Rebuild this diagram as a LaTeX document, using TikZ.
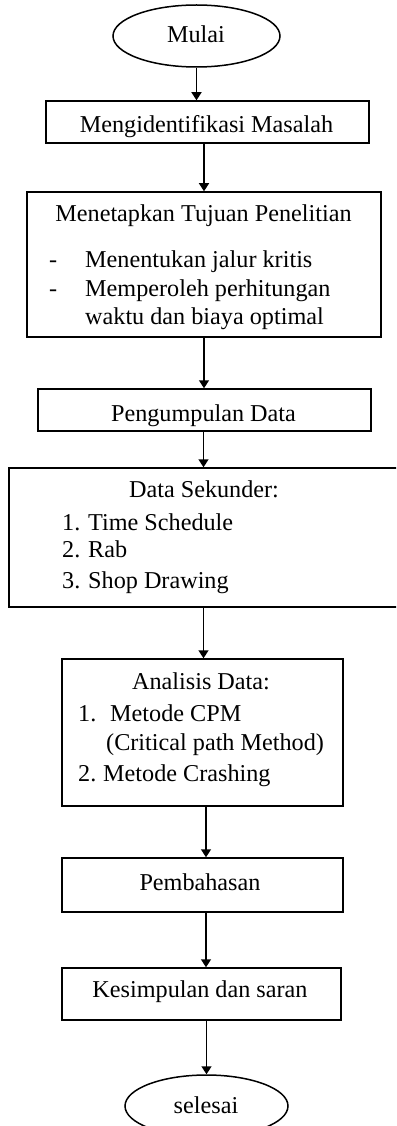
\documentclass[tikz,border=0pt]{standalone}
\usepackage{fontspec}
\setmainfont{Liberation Serif}
\usetikzlibrary{shapes.geometric,arrows.meta}
\begin{document}
\begin{tikzpicture}[x=1pt,y=-1pt,
  box/.style={draw,line width=1.5pt,rectangle,inner sep=0pt},
  term/.style={draw,line width=1.5pt,ellipse,inner sep=0pt},
  txt/.style={inner sep=0pt,anchor=base,font=\fontsize{24.2}{28}\selectfont},
  ltxt/.style={txt,anchor=base west},
  arr/.style={line width=1.5pt,-{Triangle[length=8pt,width=10pt]}}]
\useasboundingbox (0,0) rectangle (396,1126);
\clip (0,0) rectangle (396,1126);

% frames of the flowchart
\node[term,minimum width=167,minimum height=62] (mulai)    at (196.5,36) {};
\node[box,minimum width=323,minimum height=42]  (ident)    at (207.5,122) {};
\node[box,minimum width=354,minimum height=145] (tujuan)   at (204,264.5) {};
\node[box,minimum width=333,minimum height=42]  (kumpul)   at (204.5,410) {};
\node[box,minimum width=389,minimum height=139] (sekunder) at (203.5,537.5) {};
\node[box,minimum width=281,minimum height=147] (analisis) at (202.5,732.5) {};
\node[box,minimum width=281,minimum height=54]  (bahas)    at (202.5,885) {};
\node[box,minimum width=279,minimum height=52]  (simpul)   at (201.5,994) {};
\node[term,minimum width=163,minimum height=62] (selesai)  at (206.5,1106) {};

% texts
\node[txt] (tMulai) at (196,43) {Mulai};
\node[txt] (tIdent) at (206.5,133) {Mengidentifikasi Masalah};
\node[txt] (tTujuan) at (203.5,221) {Menetapkan Tujuan Penelitian};
\node[ltxt] (d1) at (49,267) {-};
\node[ltxt] (t1) at (85,267) {Menentukan jalur kritis};
\node[ltxt] (d2) at (49,296) {-};
\node[ltxt] (t2) at (85,296) {Memperoleh perhitungan};
\node[ltxt] (t3) at (85,324) {waktu dan biaya optimal};
\node[txt] (tKumpul) at (203.5,421) {Pengumpulan Data};
\node[txt] (tSek) at (204,497) {Data Sekunder:};
\node[ltxt] (n1) at (62,530) {1.};
\node[ltxt] (s1) at (88,530) {Time Schedule};
\node[ltxt] (n2) at (62,557) {2.};
\node[ltxt] (s2) at (88,557) {Rab};
\node[ltxt] (n3) at (62,588) {3.};
\node[ltxt] (s3) at (88,588) {Shop Drawing};
\node[txt] (tAnalisis) at (201,689) {Analisis Data:};
\node[ltxt] (m1) at (78,721) {1.};
\node[ltxt] (a1) at (110,721) {Metode CPM};
\node[ltxt] (a1b) at (106,750) {(Critical path Method)};
\node[ltxt] (m2) at (78,781) {2.};
\node[ltxt] (a2) at (103,781) {Metode Crashing};
\node[txt] (tBahas) at (200,890) {Pembahasan};
\node[txt] (tSimpul) at (200,997) {Kesimpulan dan saran};
\node[txt] (tSelesai) at (206,1113) {selesai};

% connectors
\draw[arr] (mulai.south) -- (mulai.south |- ident.north);
\draw[arr] (tujuan.north |- ident.south) -- (tujuan.north);
\draw[arr] (tujuan.south) -- (tujuan.south |- kumpul.north);
\draw[arr] (sekunder.north |- kumpul.south) -- (sekunder.north);
\draw[arr] (sekunder.south) -- (sekunder.south |- analisis.north);
\draw[arr] ([xshift=3.5pt]analisis.south) -- ([xshift=3.5pt]analisis.south |- bahas.north);
\draw[arr] ([xshift=3.5pt]bahas.south) -- ([xshift=3.5pt]bahas.south |- simpul.north);
\draw[arr] (selesai.north |- simpul.south) -- (selesai.north);
\end{tikzpicture}
\end{document}
